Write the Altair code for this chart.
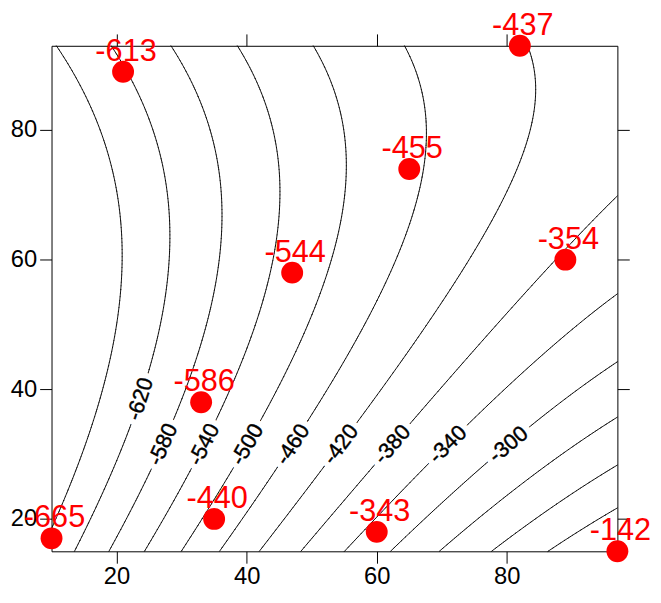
import numpy as np
import pandas as pd
import altair as alt

# ---- data ----
px = [10, 21, 33, 35, 47, 60, 65, 82, 89, 97]
py = [17, 89, 38, 20, 58, 18, 74, 93, 60, 15]
pz = [-665, -613, -586, -440, -544, -343, -455, -437, -354, -142]

levels = [-660, -620, -580, -540, -500, -460, -420, -380, -340, -300,
          -260, -220, -180, -140]
label_levels = [-620, -580, -540, -500, -460, -420, -380, -340, -300]
x_ticks = [20, 40, 60, 80]
y_ticks = [20, 40, 60, 80]
x_dom = [10, 97]
y_dom = [15, 93]

W, H = 572, 511
FONT = "Liberation Sans"

# ---- quadratic trend surface fitted to the points ----
X = np.array(px, float)
Y = np.array(py, float)
Zp = np.array(pz, float)
A = np.column_stack([np.ones_like(X), X, Y, X**2, X * Y, Y**2])
b, *_ = np.linalg.lstsq(A, Zp, rcond=None)


def f(x, y):
    return b[0] + b[1] * x + b[2] * y + b[3] * x**2 + b[4] * x * y + b[5] * y**2


def grad(x, y):
    return (b[1] + 2 * b[3] * x + b[4] * y, b[2] + b[4] * x + 2 * b[5] * y)


# ---- marching squares ----
N = 140
xg = np.linspace(x_dom[0], x_dom[1], N)
yg = np.linspace(y_dom[0], y_dom[1], N)
XX, YY = np.meshgrid(xg, yg)
ZZ = f(XX, YY)

rows = []
for lev in levels:
    for i in range(N - 1):
        for j in range(N - 1):
            z00, z01 = ZZ[i, j], ZZ[i, j + 1]
            z10, z11 = ZZ[i + 1, j], ZZ[i + 1, j + 1]
            x0, x1 = xg[j], xg[j + 1]
            y0, y1 = yg[i], yg[i + 1]
            edges = [
                (z00, z01, x0, y0, x1, y0),
                (z01, z11, x1, y0, x1, y1),
                (z10, z11, x0, y1, x1, y1),
                (z00, z10, x0, y0, x0, y1),
            ]
            pts = []
            for za, zb, xa, ya, xb, yb in edges:
                if (za - lev) * (zb - lev) < 0:
                    t = (lev - za) / (zb - za)
                    pts.append((xa + t * (xb - xa), ya + t * (yb - ya)))
            if len(pts) >= 2:
                rows.append(dict(x=pts[0][0], y=pts[0][1], x2=pts[1][0], y2=pts[1][1], level=lev))
            if len(pts) == 4:
                rows.append(dict(x=pts[2][0], y=pts[2][1], x2=pts[3][0], y2=pts[3][1], level=lev))
seg_df = pd.DataFrame(rows)

# ---- contour labels ----
sx = W / (x_dom[1] - x_dom[0])
sy = H / (y_dom[1] - y_dom[0])
lab_rows = []
xs_fine = np.linspace(x_dom[0], x_dom[1], 2000)
for lev in label_levels:
    yt = 38.5 if lev == -620 else 31.5
    vals = f(xs_fine, yt) - lev
    idx = np.where(np.sign(vals[:-1]) != np.sign(vals[1:]))[0]
    if len(idx) == 0:
        continue
    k = idx[0]
    xa, xb = xs_fine[k], xs_fine[k + 1]
    xc = xa + (xb - xa) * (-vals[k]) / (vals[k + 1] - vals[k])
    fx, fy = grad(xc, yt)
    gx, gy = fx / sx, -fy / sy
    tx, ty = -gy, gx
    ang = np.degrees(np.arctan2(ty, tx))
    while ang > 90:
        ang -= 180
    while ang <= -90:
        ang += 180
    lab_rows.append(dict(x=xc, y=yt, text=str(lev), angle=ang % 360))
lab_df = pd.DataFrame(lab_rows)

pts_df = pd.DataFrame(dict(x=px, y=py, text=[str(v) for v in pz]))

# ---- chart ----
xs = alt.Scale(domain=x_dom, nice=False, zero=False)
ys = alt.Scale(domain=y_dom, nice=False, zero=False)

common_axis = dict(values=x_ticks, tickSize=12, tickColor="black", tickWidth=1,
                   domain=False, grid=False, title=None, labelFont=FONT,
                   labelFontSize=24, labelColor="black")

ax_bottom = alt.Axis(orient="bottom", labelPadding=2, **common_axis)
ax_top = alt.Axis(orient="top", labels=False, **common_axis)
ax_left = alt.Axis(orient="left", labelPadding=3, **{**common_axis, "values": y_ticks})
ax_right = alt.Axis(orient="right", labels=False, **{**common_axis, "values": y_ticks})

lines = alt.Chart(seg_df).mark_rule(color="black", strokeWidth=0.9, strokeCap="round").encode(
    x=alt.X("x:Q", scale=xs, axis=ax_bottom),
    y=alt.Y("y:Q", scale=ys, axis=ax_left),
    x2="x2:Q",
    y2="y2:Q",
)

halo = alt.Chart(lab_df).mark_text(
    font=FONT, fontSize=22, fill="white", stroke="white", strokeWidth=12,
    align="center", baseline="middle"
).encode(
    x=alt.X("x:Q", scale=xs, axis=ax_top),
    y=alt.Y("y:Q", scale=ys, axis=ax_right),
    text="text:N",
    angle=alt.Angle("angle:Q", scale=None),
)

labels = alt.Chart(lab_df).mark_text(
    font=FONT, fontSize=22, color="black", stroke="black", strokeWidth=0.4,
    align="center", baseline="middle"
).encode(
    x=alt.X("x:Q", scale=xs, axis=None),
    y=alt.Y("y:Q", scale=ys, axis=None),
    text="text:N",
    angle=alt.Angle("angle:Q", scale=None),
)

points = alt.Chart(pts_df).mark_circle(size=490, color="#ff0000", opacity=1).encode(
    x=alt.X("x:Q", scale=xs, axis=None),
    y=alt.Y("y:Q", scale=ys, axis=None),
)

ptext = alt.Chart(pts_df).mark_text(
    font=FONT, fontSize=31, color="#ff0000", align="center",
    baseline="alphabetic", dy=-11, dx=3
).encode(
    x=alt.X("x:Q", scale=xs, axis=None),
    y=alt.Y("y:Q", scale=ys, axis=None),
    text="text:N",
)

chart = alt.layer(lines, halo, labels, points, ptext).resolve_axis(
    x="independent", y="independent"
).properties(
    width=W, height=H,
    autosize=alt.AutoSizeParams(type="none"),
    padding={"left": 44, "top": 35, "right": 36, "bottom": 45},
).configure_view(stroke="black", strokeWidth=1)

chart.save("out.html", embed_options={"renderer": "svg", "actions": False})
